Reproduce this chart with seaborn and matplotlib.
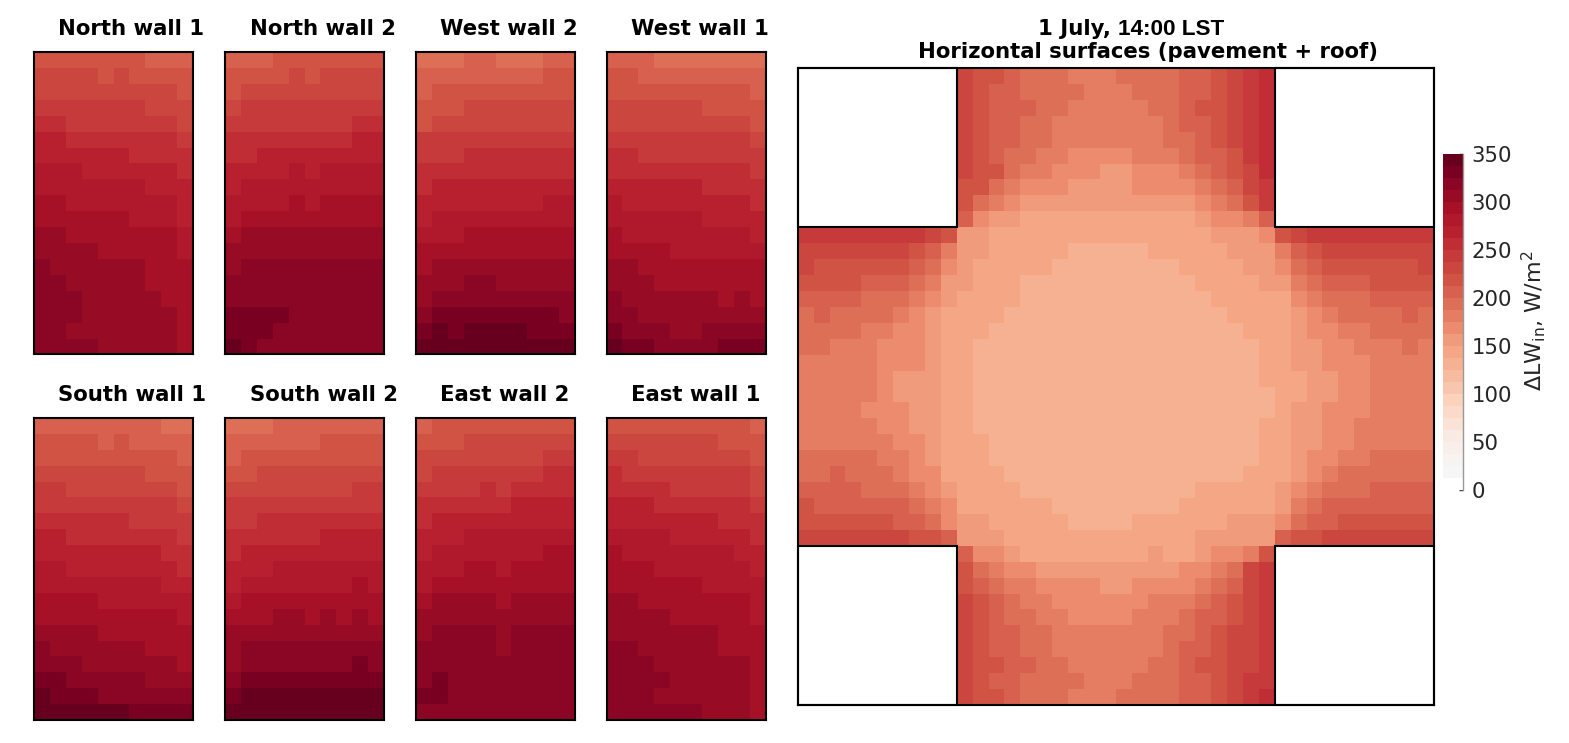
import numpy as np
import matplotlib
matplotlib.use("Agg")
import matplotlib.pyplot as plt
from matplotlib.colors import ListedColormap, BoundaryNorm
from matplotlib.patches import Rectangle
import seaborn as sns

# Wall values, W/m2, top row first
north_wall_1 = [
    [219]*7 + [206]*3,
    [231]*4 + [219] + [231] + [219]*4,
    [231]*9 + [219],
    [244]*7 + [231]*3,
    [256]*2 + [244]*7 + [231],
    [269]*2 + [256]*7 + [244],
    [269]*6 + [256]*4,
    [281]*3 + [269]*6 + [256],
    [281]*7 + [269]*3,
    [294]*2 + [281]*7 + [269],
    [294]*6 + [281]*3 + [269],
    [306]*2 + [294]*7 + [281],
    [306]*4 + [294]*5 + [281],
    [319] + [306]*6 + [294]*3,
    [319]*2 + [306]*5 + [294]*3,
    [319]*3 + [306]*5 + [294]*2,
    [319]*3 + [306]*6 + [294],
    [319]*2 + [306]*7 + [294],
    [319]*4 + [306]*5 + [294],
]
north_wall_2 = [
    [206]*3 + [219]*7,
    [219]*4 + [231] + [219] + [231]*4,
    [219] + [231]*9,
    [231] + [244]*9,
    [244]*8 + [256]*2,
    [256]*8 + [269]*2,
    [256]*2 + [269]*8,
    [269]*4 + [281] + [269] + [281]*4,
    [269] + [281]*9,
    [281]*4 + [294] + [281] + [294]*4,
    [281] + [294]*9,
    [294] + [306]*9,
    [306]*10,
    [306] + [319]*9,
    [319]*10,
    [319]*10,
    [331]*4 + [319]*6,
    [331]*3 + [319]*7,
    [344] + [331] + [319]*8,
]
west_wall_2 = [
    [194]*3 + [206]*2 + [194]*3 + [206]*2,
    [206]*8 + [219]*2,
    [206] + [219]*9,
    [219]*3 + [231]*7,
    [219] + [231]*9,
    [244]*10,
    [244]*3 + [256]*7,
    [256]*10,
    [256] + [269]*9,
    [269]*8 + [281]*2,
    [269] + [281]*9,
    [281]*3 + [294]*7,
    [294]*10,
    [294] + [306]*9,
    [306]*3 + [319]*2 + [306]*5,
    [306] + [319]*9,
    [319] + [331]*8 + [319],
    [331] + [344] + [331] + [344]*4 + [331]*3,
    [344]*10,
]
west_wall_1 = [
    [206]*3 + [194]*7,
    [219]*2 + [206]*8,
    [219]*9 + [206],
    [231]*6 + [219]*4,
    [231]*9 + [219],
    [244]*9 + [231],
    [256]*2 + [244]*8,
    [256]*9 + [244],
    [269]*6 + [256]*4,
    [281] + [269]*8 + [256],
    [281]*6 + [269]*4,
    [294] + [281]*8 + [269],
    [294]*4 + [281]*6,
    [306]*2 + [294]*8,
    [306]*3 + [294]*7,
    [319] + [306]*6 + [294] + [306] + [294],
    [319]*2 + [306]*8,
    [331] + [319]*3 + [306]*2 + [319]*4,
    [344] + [331]*2 + [319]*4 + [331]*3,
]
south_wall_1 = [
    [206]*8 + [194]*2,
    [219]*4 + [206] + [219] + [206]*4,
    [219]*9 + [206],
    [231]*7 + [219]*3,
    [244]*2 + [231]*7 + [219],
    [244]*9 + [231],
    [256]*6 + [244]*4,
    [269]*2 + [256]*7 + [244],
    [269]*8 + [256]*2,
    [281]*2 + [269]*7 + [256],
    [281]*8 + [269]*2,
    [294]*4 + [281]*6,
    [294]*9 + [281],
    [306]*4 + [294]*6,
    [319] + [306]*6 + [294]*3,
    [319]*3 + [306]*6 + [294],
    [331]*2 + [319]*5 + [306]*3,
    [344] + [331]*3 + [319]*6,
    [344]*6 + [331]*4,
]
south_wall_2 = [
    [194]*3 + [206]*7,
    [206]*6 + [219]*4,
    [206] + [219]*9,
    [219]*2 + [231]*8,
    [231]*8 + [244]*2,
    [244]*10,
    [244]*2 + [256]*8,
    [256]*6 + [269]*4,
    [256] + [269]*9,
    [269]*3 + [281]*7,
    [269] + [281]*7 + [294] + [281],
    [281] + [294]*9,
    [294]*3 + [306]*2 + [294] + [306] + [294] + [306] + [294],
    [306]*10,
    [306] + [319]*9,
    [306] + [319]*7 + [331] + [319],
    [319] + [331]*9,
    [331] + [344]*9,
    [344]*10,
]
east_wall_2 = [
    [206] + [219]*9,
    [219]*3 + [231]*7,
    [231]*8 + [244]*2,
    [231] + [244]*7 + [256]*2,
    [244]*4 + [256] + [244] + [256]*4,
    [256]*6 + [269]*4,
    [256] + [269]*9,
    [269]*3 + [281]*7,
    [269] + [281]*7 + [294]*2,
    [281]*3 + [294]*2 + [281] + [294]*4,
    [281] + [294]*9,
    [294] + [306]*4 + [294] + [306]*4,
    [306]*10,
    [306] + [319]*4 + [306] + [319]*4,
    [319]*5 + [306] + [319]*4,
    [319]*10,
    [319] + [331] + [319]*8,
    [331]*2 + [319]*8,
    [319]*10,
]
east_wall_1 = [
    [219]*9 + [206],
    [231]*7 + [219]*3,
    [244]*2 + [231]*7 + [219],
    [256] + [244]*8 + [231],
    [256]*4 + [244]*5 + [231],
    [269]*3 + [256]*6 + [244],
    [269]*7 + [256]*3,
    [281]*4 + [269]*5 + [256],
    [294] + [281]*7 + [269]*2,
    [294]*3 + [281]*6 + [269],
    [294]*6 + [281]*4,
    [306]*2 + [294]*7 + [281],
    [306]*4 + [294]*5 + [281],
    [306]*7 + [294]*3,
    [319]*2 + [306]*5 + [294]*3,
    [319]*3 + [306]*6 + [294],
    [319]*4 + [306]*5 + [294],
    [319]*3 + [306]*6 + [294],
    [319]*6 + [306]*3 + [294],
]

# Horizontal surfaces, W/m2, nan where the buildings are
gap = [np.nan]*10
horizontal = [
    gap + [231] + [219]*2 + [206] + [194]*3 + [181]*3 + [194]*4 + [206]*2 + [219] + [231] + [244] + [256] + gap,
    gap + [231] + [219] + [206]*2 + [194]*4 + [181]*3 + [194]*3 + [206]*2 + [219] + [231] + [244] + [256] + gap,
    gap + [231] + [219] + [206]*3 + [194]*2 + [181]*5 + [194]*2 + [206] + [219]*2 + [231] + [244] + [256] + gap,
    gap + [231] + [219] + [206]*2 + [194]*2 + [181]*7 + [194] + [206]*2 + [219] + [231] + [244] + [256] + gap,
    gap + [231] + [219] + [206]*2 + [194]*2 + [181]*7 + [194]*2 + [206] + [219] + [231] + [244] + [256] + gap,
    gap + [231] + [219] + [206] + [194]*2 + [181]*2 + [169]*4 + [181]*3 + [194] + [206]*2 + [219] + [244] + [256] + gap,
    gap + [231] + [219]*2 + [194] + [181]*2 + [169]*3 + [156]*2 + [169]*3 + [181] + [194] + [206] + [219] + [231] + [256] + gap,
    gap + [219]*2 + [194] + [181] + [169]*3 + [156]*4 + [169]*4 + [181] + [194] + [206] + [231] + [244] + gap,
    gap + [219] + [194] + [181] + [169] + [156]*11 + [169] + [181] + [194] + [219] + [244] + gap,
    gap + [206] + [169] + [156]*2 + [144]*11 + [156] + [169]*2 + [181] + [206] + gap,
    [244]*8 + [231] + [219] + [156]*2 + [144]*14 + [156]*3 + [169] + [219] + [231] + [244]*8,
    [231]*7 + [219] + [206] + [181] + [156]*2 + [144]*5 + [131]*5 + [144]*5 + [156]*3 + [181] + [206] + [219] + [231]*7,
    [231] + [219]*6 + [206] + [194] + [169] + [156] + [144]*5 + [131]*8 + [144]*4 + [156]*2 + [169] + [194] + [206] + [219]*6 + [231],
    [219]*4 + [206]*3 + [194] + [181] + [156]*2 + [144]*3 + [131]*11 + [144]*4 + [156]*2 + [181] + [194] + [206]*3 + [219]*4,
    [206]*4 + [194]*3 + [181] + [169] + [156] + [144]*4 + [131]*12 + [144]*5 + [169] + [181] + [194]*3 + [206]*4,
    [194] + [206] + [194]*4 + [181] + [169] + [156] + [144]*4 + [131]*14 + [144]*4 + [156] + [169] + [181] + [194]*4 + [206] + [194],
    [194]*4 + [181]*2 + [169]*2 + [156] + [144]*3 + [131]*16 + [144]*3 + [156] + [169]*2 + [181]*2 + [194]*4,
    [194]*2 + [181]*3 + [169]*3 + [156] + [144]*2 + [131]*18 + [144]*2 + [156]*2 + [169]*2 + [181]*3 + [194] + [181],
    [181]*5 + [169]*3 + [156] + [144]*2 + [131]*18 + [144]*2 + [156]*2 + [169]*3 + [181]*4,
    [181]*5 + [169] + [156]*3 + [144]*2 + [131]*18 + [144]*3 + [156]*2 + [169]*2 + [181]*4,
    [181]*5 + [169] + [156]*3 + [144]*2 + [131]*19 + [144]*2 + [156]*2 + [169]*2 + [181]*4,
    [181]*4 + [169]*3 + [156]*2 + [144]*2 + [131]*19 + [144] + [156]*2 + [169]*3 + [181]*4,
    [181]*5 + [169]*2 + [156]*2 + [144]*2 + [131]*18 + [144]*2 + [156]*2 + [169]*2 + [181]*5,
    [181]*6 + [169]*2 + [156] + [144]*3 + [131]*17 + [144]*2 + [156]*2 + [169]*2 + [181]*5,
    [194]*5 + [181]*2 + [169] + [156] + [144]*3 + [131]*17 + [144]*2 + [156] + [169]*2 + [181]*2 + [194]*4,
    [194]*2 + [206] + [194]*3 + [181] + [169]*2 + [144]*4 + [131]*15 + [144]*3 + [156] + [169] + [181] + [194]*6,
    [206]*4 + [194]*3 + [181] + [169] + [156] + [144]*4 + [131]*11 + [144]*5 + [156] + [169] + [181] + [194]*3 + [206]*4,
    [219] + [206]*6 + [194] + [181] + [169] + [144]*6 + [131]*8 + [144]*6 + [156] + [181] + [194] + [206]*7,
    [219]*6 + [206]*2 + [194] + [169] + [156]*2 + [144]*5 + [131]*4 + [144]*6 + [156]*3 + [169] + [194] + [206]*2 + [219]*6,
    [231]*7 + [219]*2 + [206] + [156]*3 + [144]*12 + [156]*5 + [206] + [219]*2 + [231]*7,
    gap + [206] + [169]*2 + [156] + [144]*8 + [156] + [144]*2 + [156] + [169]*2 + [181] + [219] + gap,
    gap + [219] + [194] + [181] + [169]*2 + [156]*9 + [169]*2 + [181] + [194] + [231] + [244] + gap,
    gap + [219] + [206] + [194] + [181]*2 + [169]*4 + [156]*2 + [169]*4 + [181] + [194] + [206] + [231] + [244] + gap,
    gap + [231] + [219] + [206] + [194] + [181]*2 + [169]*6 + [181]*3 + [194] + [206] + [219] + [231] + [244] + gap,
    gap + [231] + [219] + [206] + [194]*2 + [181]*2 + [169]*4 + [181]*3 + [194] + [206]*2 + [219] + [231] + [244] + gap,
    gap + [231] + [219] + [206]*2 + [194]*2 + [181]*7 + [194]*2 + [206] + [219] + [231]*2 + [244] + gap,
    gap + [231] + [219] + [206]*2 + [194]*2 + [181]*7 + [194] + [206]*2 + [219] + [231]*2 + [244] + gap,
    gap + [231] + [219]*2 + [206]*2 + [194]*2 + [181]*5 + [194]*2 + [206] + [219]*2 + [231]*2 + [244] + gap,
    gap + [231] + [219] + [206]*2 + [194]*4 + [181]*3 + [194]*3 + [206]*2 + [219] + [231] + [244]*2 + gap,
    gap + [231] + [219]*2 + [206] + [194]*3 + [181]*3 + [194]*4 + [206]*2 + [219] + [231] + [244] + [256] + gap,
]

wall_titles = ["North wall 1", "North wall 2", "West wall 2", "West wall 1",
               "South wall 1", "South wall 2", "East wall 2", "East wall 1"]
wall_data = [north_wall_1, north_wall_2, west_wall_2, west_wall_1,
             south_wall_1, south_wall_2, east_wall_2, east_wall_1]
cbar_ticks = [0, 50, 100, 150, 200, 250, 300, 350]

W, H = 1569, 743
sns.set_theme(style="white")
plt.rcParams["font.family"] = "DejaVu Sans"
plt.rcParams["mathtext.default"] = "regular"

# 28 bands of 12.5 W/m2, colours, low to high
band_colors = ["#ffffff", "#f7f6f6", "#f7f3f1", "#f8efeb", "#f9eae3", "#fbe2d6", "#fcdac9",
               "#fbd2bb", "#f8c6ae", "#f7bba0", "#f6b092", "#f4a685", "#f09b7b", "#ec8b6e",
               "#e47d62", "#dd6f57", "#d7604e", "#d05344", "#cb463f", "#c63a3b", "#c02d35",
               "#b9202f", "#b0192b", "#a61127", "#980b25", "#8a0624", "#7a0022", "#67001f"]
bounds = np.arange(0, 350.1, 12.5)
cmap = ListedColormap(band_colors)
norm = BoundaryNorm(bounds, cmap.N)


def px_axes(fig, left, top, right, bottom):
    return fig.add_axes([left / W, 1 - bottom / H, (right - left) / W, (bottom - top) / H])


def frame(ax):
    for s in ax.spines.values():
        s.set_visible(True)
        s.set_color("black")
        s.set_linewidth(1.5)


fig = plt.figure(figsize=(W / 100, H / 100), dpi=100)

lefts = [34, 225, 416, 606.5]
tops = [(52, 354.5), (418, 720)]
baselines = [35, 401]
for i, (title, data) in enumerate(zip(wall_titles, wall_data)):
    left = lefts[i % 4]
    top, bottom = tops[i // 4]
    ax = px_axes(fig, left, top, left + 159, bottom)
    sns.heatmap(np.array(data, dtype=float), ax=ax, cmap=cmap, norm=norm, cbar=False,
                xticklabels=False, yticklabels=False)
    frame(ax)
    fig.text((left + 24.5) / W, 1 - baselines[i // 4] / H, title, fontsize=15.3, fontweight="bold",
             ha="left", va="baseline", color="black")

# horizontal surfaces and colour bar
ax = px_axes(fig, 797.7, 68, 1433.7, 705)
cax = px_axes(fig, 1443, 154, 1463, 489.5)
sns.heatmap(np.array(horizontal, dtype=float), ax=ax, cmap=cmap, norm=norm, cbar=True, cbar_ax=cax,
            cbar_kws={"ticks": cbar_ticks, "spacing": "proportional", "drawedges": False},
            xticklabels=False, yticklabels=False)
frame(ax)
for x0, y0 in [(0, 0), (30, 0), (0, 30), (30, 30)]:
    ax.add_patch(Rectangle((x0, y0), 10, 10, facecolor="white", edgecolor="black", linewidth=1.5, clip_on=False))

cax.set_yticks(cbar_ticks)
cax.set_yticklabels([str(t) for t in cbar_ticks])
cax.minorticks_off()
cax.tick_params(axis="y", which="minor", length=0)
cax.tick_params(axis="y", direction="in", length=3, width=1, color="#444444", labelsize=15.3,
                labelcolor="#262626", pad=6, right=True, left=False)
cax.spines["right"].set_visible(True)
cax.spines["right"].set_color("#999999")
cax.spines["right"].set_linewidth(1)
cax.yaxis.set_ticks_position("right")
fig.text(1534 / W, 1 - 321 / H, r"$\Delta$LW$_{in}$, W/m$^2$", rotation=90, fontsize=16,
         color="#262626", ha="center", va="center")

# first title line mixes two faces in the original
fig.text(1038 / W, 1 - 35 / H, "1 July,", fontsize=15.3, fontweight="bold", ha="left", va="baseline", color="black")
fig.text(1224 / W, 1 - 35 / H, "14:00 LST", fontsize=16.2, fontweight="bold", family="Liberation Sans",
         ha="right", va="baseline", color="black")
fig.text(1147.5 / W, 1 - 58.5 / H, "Horizontal surfaces (pavement + roof)", fontsize=15.3, fontweight="bold",
         ha="center", va="baseline", color="black")

fig.savefig("out.png", dpi=100)
